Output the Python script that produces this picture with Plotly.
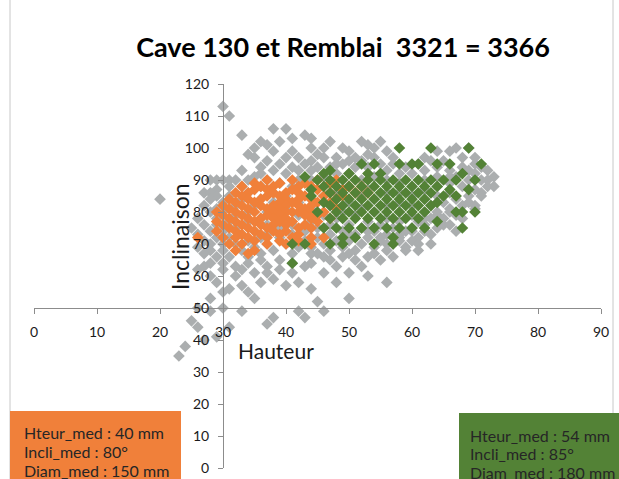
import plotly.graph_objects as go

# Hauteur (x) / Inclinaison (y) pairs for each population
gray_points = [
    (30, 113), (31, 110), (38, 106), (40, 106), (33, 104), (43, 104), (41, 103), (44, 103),
    (36, 102), (39, 102), (47, 102), (52, 102), (55, 102), (37, 101), (53, 101),
    (35, 100), (44, 100), (46, 100), (49, 100), (54, 100), (67, 100), (69, 100),
    (38, 99), (41, 99), (50, 99), (56, 99), (64, 99), (66, 99),
    (34, 98), (45, 98), (53, 98),
    (35, 97), (40, 97), (42, 97), (46, 97), (48, 97), (51, 97), (54, 97), (57, 97), (62, 97),
    (68, 97), (70, 97),
    (37, 96), (44, 96), (50, 96), (52, 96), (63, 96), (65, 96),
    (39, 95), (43, 95), (48, 95), (49, 95), (55, 95), (57, 95), (61, 95), (70, 95),
    (36, 94), (41, 94), (45, 94), (47, 94), (51, 94), (53, 94), (59, 94), (64, 94), (68, 94), (71, 94),
    (33, 93), (38, 93), (42, 93), (44, 93), (56, 93), (62, 93), (66, 93), (69, 93), (72, 93),
    (36, 92), (40, 92), (48, 92), (50, 92), (58, 92), (60, 92), (70, 92),
    (35, 91), (46, 91), (54, 91), (64, 91), (66, 91), (67, 91), (73, 91),
    (28, 90), (29, 90), (30, 90), (31, 90), (32, 90), (34, 90), (37, 90), (42, 90), (44, 90),
    (52, 90), (56, 90), (62, 90), (69, 90), (71, 90), (72, 90),
    (39, 89), (47, 89), (58, 89), (66, 89),
    (31, 88), (33, 88), (36, 88), (41, 88), (50, 88), (60, 88), (64, 88), (68, 88), (72, 88), (73, 88),
    (29, 87), (44, 87), (53, 87), (62, 87), (70, 87),
    (27, 86), (28, 86), (34, 86), (38, 86), (48, 86), (56, 86), (58, 86), (66, 86), (71, 86),
    (29, 85), (31, 85), (40, 85), (46, 85), (52, 85), (60, 85), (64, 85), (69, 85), (71, 85),
    (20, 84), (28, 84), (33, 84), (36, 84), (44, 84), (54, 84), (62, 84), (67, 84),
    (30, 83), (38, 83), (42, 83), (50, 83), (58, 83), (65, 83), (69, 83),
    (27, 82), (32, 82), (35, 82), (47, 82), (56, 82), (60, 82), (63, 82), (68, 82), (70, 82),
    (29, 81), (40, 81), (44, 81), (52, 81), (66, 81), (70, 81),
    (28, 80), (30, 80), (34, 80), (37, 80), (49, 80), (54, 80), (58, 80), (62, 80), (64, 80), (66, 80),
    (32, 79), (42, 79), (46, 79), (51, 79), (60, 79), (64, 79), (67, 79),
    (26, 78), (29, 78), (36, 78), (39, 78), (48, 78), (56, 78), (62, 78), (63, 78), (65, 78), (68, 78),
    (31, 77), (34, 77), (44, 77), (53, 77), (58, 77), (61, 77),
    (27, 76), (29, 76), (37, 76), (41, 76), (47, 76), (50, 76), (55, 76), (62, 76), (65, 76), (66, 76),
    (25, 75), (32, 75), (39, 75), (45, 75), (52, 75), (57, 75), (60, 75), (64, 75),
    (28, 74), (30, 74), (35, 74), (43, 74), (49, 74), (53, 74), (54, 74), (59, 74), (60, 74),
    (62, 74), (67, 74),
    (26, 73), (33, 73), (37, 73), (41, 73), (47, 73), (50, 73), (51, 73), (56, 73), (58, 73), (63, 73),
    (29, 72), (31, 72), (36, 72), (39, 72), (45, 72), (53, 72), (55, 72), (58, 72), (61, 72),
    (27, 71), (34, 71), (43, 71), (48, 71), (50, 71), (55, 71), (58, 71), (60, 71),
    (28, 70), (30, 70), (32, 70), (37, 70), (40, 70), (46, 70), (52, 70), (56, 70), (57, 70),
    (61, 70), (63, 70),
    (26, 69), (35, 69), (42, 69), (44, 69), (49, 69), (54, 69), (59, 69),
    (28, 68), (30, 68), (33, 68), (38, 68), (47, 68), (51, 68), (56, 68), (59, 68), (61, 68),
    (27, 67), (36, 67), (41, 67), (44, 67), (45, 67), (50, 67), (54, 67),
    (29, 66), (31, 66), (34, 66), (46, 66), (49, 66), (53, 66), (57, 66),
    (36, 65), (39, 65), (47, 65), (51, 65), (55, 65),
    (28, 64), (30, 64), (34, 64), (41, 64), (44, 64),
    (27, 63), (32, 63), (37, 63), (43, 63), (48, 63), (52, 63),
    (26, 62), (30, 62), (33, 62), (39, 62),
    (35, 61), (37, 61), (41, 61), (46, 61), (50, 61), (28, 60), (32, 60), (53, 60),
    (38, 59), (29, 58), (36, 58), (42, 58), (48, 58), (56, 58), (33, 57), (40, 57),
    (31, 56), (44, 56),
    (30, 55), (34, 55), (28, 53), (35, 53), (50, 53), (45, 52),
    (26, 50), (30, 50), (28, 49), (33, 49), (42, 49), (46, 49),
    (38, 47), (43, 47), (25, 46), (37, 45), (26, 44), (31, 44),
    (29, 41), (27, 40), (24, 38), (23, 35),
]

orange_points = [
    (37, 90), (41, 90), (45, 90), (48, 90),
    (35, 89), (39, 89), (43, 89), (47, 89),
    (33, 88), (36, 88), (38, 88), (42, 88), (44, 88), (50, 88), (52, 88),
    (35, 87), (37, 87), (41, 87), (45, 87), (49, 87),
    (32, 86), (34, 86), (38, 86), (40, 86), (42, 86), (47, 86), (51, 86), (53, 86),
    (33, 85), (37, 85), (39, 85), (43, 85), (46, 85), (49, 85),
    (31, 84), (34, 84), (36, 84), (40, 84), (42, 84), (44, 84), (48, 84),
    (32, 83), (35, 83), (39, 83), (41, 83), (45, 83), (47, 83),
    (30, 82), (33, 82), (36, 82), (38, 82), (40, 82), (42, 82), (44, 82),
    (31, 81), (34, 81), (37, 81), (39, 81), (43, 81), (48, 81),
    (29, 80), (32, 80), (35, 80), (38, 80), (40, 80), (41, 80), (42, 80), (44, 80), (46, 80),
    (30, 79), (33, 79), (37, 79), (39, 79), (43, 79), (45, 79),
    (31, 78), (34, 78), (36, 78), (38, 78), (40, 78), (44, 78), (47, 78),
    (29, 77), (32, 77), (35, 77), (39, 77), (41, 77), (45, 77),
    (30, 76), (33, 76), (36, 76), (38, 76), (40, 76), (43, 76),
    (31, 75), (34, 75), (37, 75), (42, 75), (44, 75),
    (29, 74), (32, 74), (35, 74), (38, 74), (40, 74),
    (33, 73), (36, 73), (39, 73), (42, 73),
    (26, 72), (30, 72), (32, 72), (34, 72), (37, 72), (41, 72), (44, 72), (46, 72),
    (35, 71), (39, 71), (42, 71),
    (31, 70), (33, 70), (37, 70), (40, 70), (44, 70),
    (32, 68), (35, 68), (34, 67),
]

green_points = [
    (58, 100), (63, 100), (69, 100),
    (52, 95), (54, 95), (58, 95), (60, 95), (61, 95), (64, 95), (66, 95), (71, 95),
    (47, 93), (46, 92), (50, 92), (53, 92), (55, 92), (68, 92), (43, 91),
    (45, 90), (47, 90), (49, 90), (51, 90), (53, 90), (55, 90), (57, 90), (59, 90),
    (61, 90), (63, 90), (65, 90), (67, 90), (70, 90),
    (46, 88), (48, 88), (50, 88), (52, 88), (54, 88), (56, 88), (58, 88), (60, 88), (62, 88), (64, 88),
    (44, 87), (66, 87), (69, 87),
    (47, 86), (49, 86), (51, 86), (53, 86), (55, 86), (57, 86), (59, 86), (61, 86), (63, 86),
    (44, 85), (65, 85), (67, 85),
    (48, 84), (50, 84), (52, 84), (54, 84), (56, 84), (58, 84), (60, 84), (62, 84),
    (46, 83), (64, 83),
    (47, 82), (49, 82), (51, 82), (53, 82), (55, 82), (57, 82), (59, 82), (61, 82), (63, 82),
    (45, 80), (48, 80), (50, 80), (52, 80), (54, 80), (56, 80), (58, 80), (60, 80), (62, 80),
    (67, 80), (68, 80), (70, 80),
    (47, 78), (49, 78), (51, 78), (53, 78), (55, 78), (57, 78), (59, 78), (61, 78),
    (64, 77),
    (46, 75), (48, 75), (50, 75), (52, 75), (54, 75), (56, 75), (58, 75), (60, 75), (62, 75), (68, 75),
    (49, 72), (51, 72), (57, 72),
    (41, 70), (43, 70), (47, 70), (49, 70), (54, 70), (57, 70),
    (41, 64),
]

x_ticks = [0, 10, 20, 30, 40, 50, 60, 70, 80, 90]
y_ticks = [0, 10, 20, 30, 40, 50, 60, 70, 80, 90, 100, 110, 120]

orange_lines = ["Hteur_med : 40 mm", "Incli_med : 80°", "Diam_med : 150 mm"]
green_lines = ["Hteur_med : 54 mm", "Incli_med : 85°", "Diam_med : 180 mm"]

GRAY = "#ABAEAF"
ORANGE = "#F0803A"
GREEN = "#538236"
FONT = "Lato"


def add_series(fig, pts, color):
    fig.add_trace(go.Scatter(
        x=[p[0] for p in pts], y=[p[1] for p in pts],
        mode="markers",
        marker=dict(symbol="diamond", size=9, color=color, line=dict(width=0)),
        hoverinfo="skip",
    ))


fig = go.Figure()
add_series(fig, gray_points, GRAY)
add_series(fig, orange_points, ORANGE)
add_series(fig, green_points, GREEN)

# plot area in pixels: x 34..601, y 84..468
L, R, T, B = 34, 18, 84, 11
W, H = 619, 479
pw, ph = W - L - R, H - T - B


def px(xp):
    return (xp - L) / pw


def py(yp):
    return (H - B - yp) / ph


axis_common = dict(
    showgrid=False, zeroline=False, showline=True, linecolor="#8C8C8C", linewidth=1,
    ticks="outside", ticklen=5, tickcolor="#8C8C8C", tickwidth=1,
    tickfont=dict(family=FONT, size=14, color="#1A1A1A"),
    anchor="free", automargin=False,
)

fig.update_layout(
    width=W, height=H,
    margin=dict(l=L, r=R, t=T, b=B, autoexpand=False),
    paper_bgcolor="white", plot_bgcolor="white",
    showlegend=False,
    title=dict(
        text="<b>Cave 130 et Remblai  3321 = 3366</b>",
        font=dict(family=FONT, size=27, color="#000000"),
        x=px(343), xref="paper", xanchor="center",
        y=1 - 48 / H, yref="container", yanchor="middle",
        automargin=False,
    ),
    xaxis=dict(range=[0, 90], tickvals=x_ticks, position=50 / 120,
               ticklabelstandoff=6, **axis_common),
    yaxis=dict(range=[0, 120], tickvals=y_ticks, position=30 / 90,
               ticklabelstandoff=6, **axis_common),
)

# chart frame edges
for xe in (10, 613):
    fig.add_shape(type="line", xref="paper", yref="paper",
                  x0=px(xe), x1=px(xe), y0=py(H + 5), y1=py(-5),
                  line=dict(color="#C8C8C8", width=1), layer="below")

# summary boxes
fig.add_shape(type="rect", xref="paper", yref="paper",
              x0=px(10), x1=px(181), y0=py(H + 5), y1=py(411),
              fillcolor=ORANGE, line=dict(width=0))
fig.add_shape(type="rect", xref="paper", yref="paper",
              x0=px(459), x1=px(W + 5), y0=py(H + 5), y1=py(413),
              fillcolor=GREEN, line=dict(width=0))

for i, t in enumerate(orange_lines):
    fig.add_annotation(text=t, xref="paper", yref="paper", x=px(22), y=py(432 + 19 * i),
                       xanchor="left", yanchor="middle", showarrow=False,
                       font=dict(family=FONT, size=16, color="#262626"))
for i, t in enumerate(green_lines):
    fig.add_annotation(text=t, xref="paper", yref="paper", x=px(468), y=py(435 + 18.5 * i),
                       xanchor="left", yanchor="middle", showarrow=False,
                       font=dict(family=FONT, size=16, color="#262626"))

# axis titles
fig.add_annotation(text="Inclinaison", xref="paper", yref="paper", x=px(180), y=py(237),
                   textangle=-90, showarrow=False, xanchor="center", yanchor="middle",
                   font=dict(family=FONT, size=23, color="#1A1A1A"))
fig.add_annotation(text="Hauteur", xref="paper", yref="paper", x=px(276), y=py(350),
                   showarrow=False, xanchor="center", yanchor="middle",
                   font=dict(family=FONT, size=21, color="#1A1A1A"))

fig.write_html("out.html")
